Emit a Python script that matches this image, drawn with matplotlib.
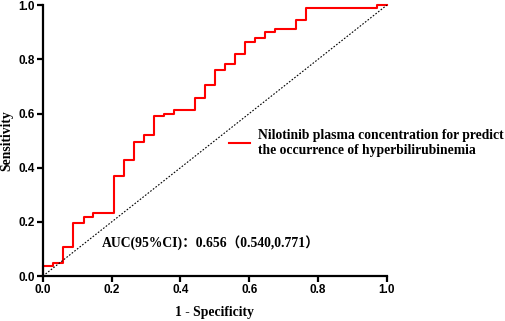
import matplotlib
matplotlib.use('Agg')
import matplotlib.pyplot as plt
from matplotlib.ticker import FormatStrFormatter

# ── Data ──────────────────────────────────────────────────────────────────────
fpr = [0.0, 0.0, 0.029, 0.059, 0.088, 0.118, 0.147, 0.206, 0.235, 0.265, 0.294,
       0.324, 0.353, 0.382, 0.441, 0.471, 0.500, 0.529, 0.559, 0.588, 0.618,
       0.647, 0.676, 0.735, 0.765, 0.971, 1.0]
tpr = [0.0, 0.037, 0.049, 0.106, 0.197, 0.219, 0.231, 0.369, 0.427, 0.496, 0.520,
       0.590, 0.600, 0.612, 0.656, 0.704, 0.760, 0.782, 0.818, 0.865, 0.877,
       0.899, 0.911, 0.945, 0.990, 1.0, 1.0]
ref_line = [0.0, 1.0]
ticks = [0.0, 0.2, 0.4, 0.6, 0.8, 1.0]

LABEL = 'Nilotinib plasma concentration for predict\nthe occurrence of hyperbilirubinemia'
AUC_TEXT = 'AUC(95%CI)\uff1a0.656\uff080.540,0.771\uff09'

SERIF = ['Liberation Serif', 'Noto Sans CJK SC', 'DejaVu Serif']

# ── Plot ─────────────────────────────────────────────────────────────────────
fig = plt.figure(figsize=(5.05, 3.21), dpi=100)
ax = fig.add_axes([0.085, 0.140, 0.681, 0.844])

ax.step(fpr, tpr, where='post', color='#FF0000', lw=1.5, clip_on=False,
        label=LABEL)
ax.plot(ref_line, ref_line, color='black', lw=0.8, ls=(0, (1.5, 1.5)),
        clip_on=False)

ax.set_xlim(0, 1)
ax.set_ylim(0, 1)
ax.set_xticks(ticks)
ax.set_yticks(ticks)
ax.xaxis.set_major_formatter(FormatStrFormatter('%.1f'))
ax.yaxis.set_major_formatter(FormatStrFormatter('%.1f'))

for side in ('top', 'right'):
    ax.spines[side].set_visible(False)
for side in ('left', 'bottom'):
    ax.spines[side].set_linewidth(1.6)
ax.tick_params(direction='out', length=4, width=1.6, pad=2)
for lab in ax.get_xticklabels() + ax.get_yticklabels():
    lab.set_fontfamily('Liberation Sans')
    lab.set_fontweight('bold')
    lab.set_fontsize(8.5)

ax.set_xlabel('1 - Specificity', family=SERIF, fontweight='bold', fontsize=9.8,
              labelpad=7)
ax.set_ylabel('Sensitivity', family=SERIF, fontweight='bold', fontsize=9.8,
              va='center')
ax.yaxis.set_label_coords(-0.105, 0.5)

ax.text(0.172, 0.125, AUC_TEXT, transform=ax.transAxes, family=SERIF,
        fontweight='bold', fontsize=9.8, va='center', ha='left')

leg = ax.legend(loc='center left', bbox_to_anchor=(229 / 505, 1 - 143 / 321),
                bbox_transform=fig.transFigure, frameon=False, borderpad=0,
                borderaxespad=0, handlelength=1.55, handletextpad=0.55,
                prop={'family': SERIF, 'weight': 'bold', 'size': 9.8})

fig.savefig('out.png', dpi=100)
